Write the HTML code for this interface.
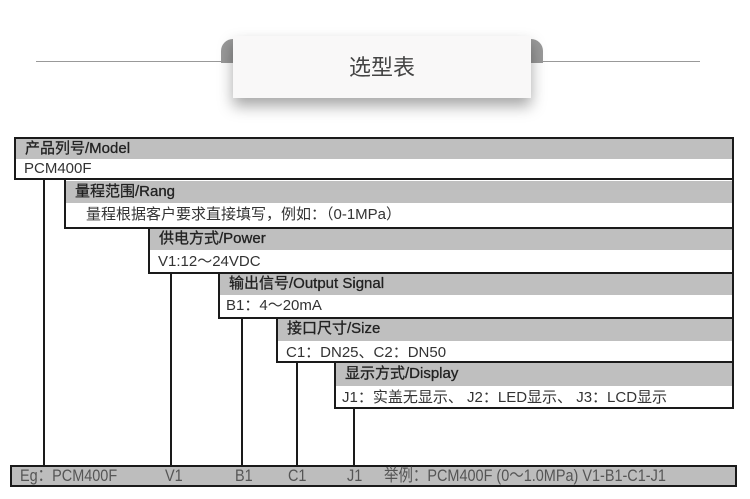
<!DOCTYPE html>
<html><head><meta charset="utf-8"><style>
body{margin:0;width:750px;height:499px;background:#fff;position:relative;overflow:hidden;font-family:"Liberation Sans","Noto Sans CJK SC",sans-serif;}
.a{position:absolute;}
.hd{position:absolute;background:#bfbfbf;color:#222;font-size:15px;line-height:22px;padding-left:9px;box-sizing:border-box;-webkit-text-stroke:0.3px #222;}
.vl{position:absolute;background:#fff;color:#333;font-size:15px;line-height:20px;padding-left:8px;box-sizing:border-box;white-space:nowrap;}
.box{position:absolute;border:2px solid #1a1a1a;border-top:none;box-sizing:border-box;z-index:3;}
.v{position:absolute;width:2px;background:#1a1a1a;z-index:3;}
.t{position:absolute;top:466px;line-height:20px;font-size:17px;color:#555;transform:scaleX(0.85);transform-origin:left;white-space:nowrap;}
</style></head><body>
<div class="a" style="left:36px;top:61px;width:664px;height:1px;background:#999"></div>
<div class="a" style="left:221px;top:39px;width:322px;height:24px;background:#999;border-radius:12px 12px 0 0"></div>
<div class="a" style="left:233px;top:36px;width:298px;height:62px;background:#f9f8f8;box-shadow:0 8px 14px rgba(0,0,0,0.35);text-align:center;line-height:64px;font-size:22px;color:#444">选型表</div>

<div class="box" style="left:14px;top:137px;width:720px;height:43px;border-top:2px solid #1a1a1a"></div>
<div class="hd" style="left:16px;top:139px;width:716px;height:20px;line-height:20px">产品列号/Model</div>
<div class="vl" style="left:16px;top:159px;width:716px;padding-left:8px">PCM400F</div>

<div class="v" style="left:43px;top:179px;height:288px"></div>

<div class="box" style="left:64px;top:180px;width:670px;height:49px"></div>
<div class="hd" style="left:66px;top:181px;width:666px;height:22px">量程范围/Rang</div>
<div class="vl" style="left:66px;top:205px;width:666px;padding-left:20px">量程根据客户要求直接填写，例如：（0-1MPa）</div>

<div class="box" style="left:148px;top:227px;width:586px;height:47px"></div>
<div class="hd" style="left:150px;top:228px;width:582px;height:22px">供电方式/Power</div>
<div class="vl" style="left:150px;top:252px;width:582px">V1:12～24VDC</div>
<div class="v" style="left:170px;top:273px;height:194px"></div>

<div class="box" style="left:218px;top:272px;width:516px;height:47px"></div>
<div class="hd" style="left:220px;top:273px;width:512px;height:22px">输出信号/Output Signal</div>
<div class="vl" style="left:220px;top:296px;width:512px;padding-left:6px">B1：4～20mA</div>
<div class="v" style="left:241px;top:318px;height:149px"></div>

<div class="box" style="left:276px;top:317px;width:458px;height:46px"></div>
<div class="hd" style="left:278px;top:318px;width:454px;height:23px">接口尺寸/Size</div>
<div class="vl" style="left:278px;top:343px;width:454px">C1：DN25、C2：DN50</div>
<div class="v" style="left:296px;top:362px;height:105px"></div>

<div class="box" style="left:334px;top:361px;width:400px;height:48px"></div>
<div class="hd" style="left:336px;top:363px;width:396px;height:23px">显示方式/Display</div>
<div class="vl" style="left:336px;top:388px;width:396px;padding-left:6px">J1：实盖无显示、 J2：LED显示、 J3：LCD显示</div>
<div class="v" style="left:353px;top:408px;height:59px"></div>

<div class="a" style="left:10px;top:465px;width:727px;height:22px;background:#bdbdbd;border:2px solid #1a1a1a;box-sizing:border-box"></div>
<div class="t" style="left:20px">Eg：PCM400F</div>
<div class="t" style="left:165px">V1</div>
<div class="t" style="left:235px">B1</div>
<div class="t" style="left:288px">C1</div>
<div class="t" style="left:347px">J1</div>
<div class="t" style="left:384px">举例：PCM400F (0～1.0MPa) V1-B1-C1-J1</div>
</body></html>
